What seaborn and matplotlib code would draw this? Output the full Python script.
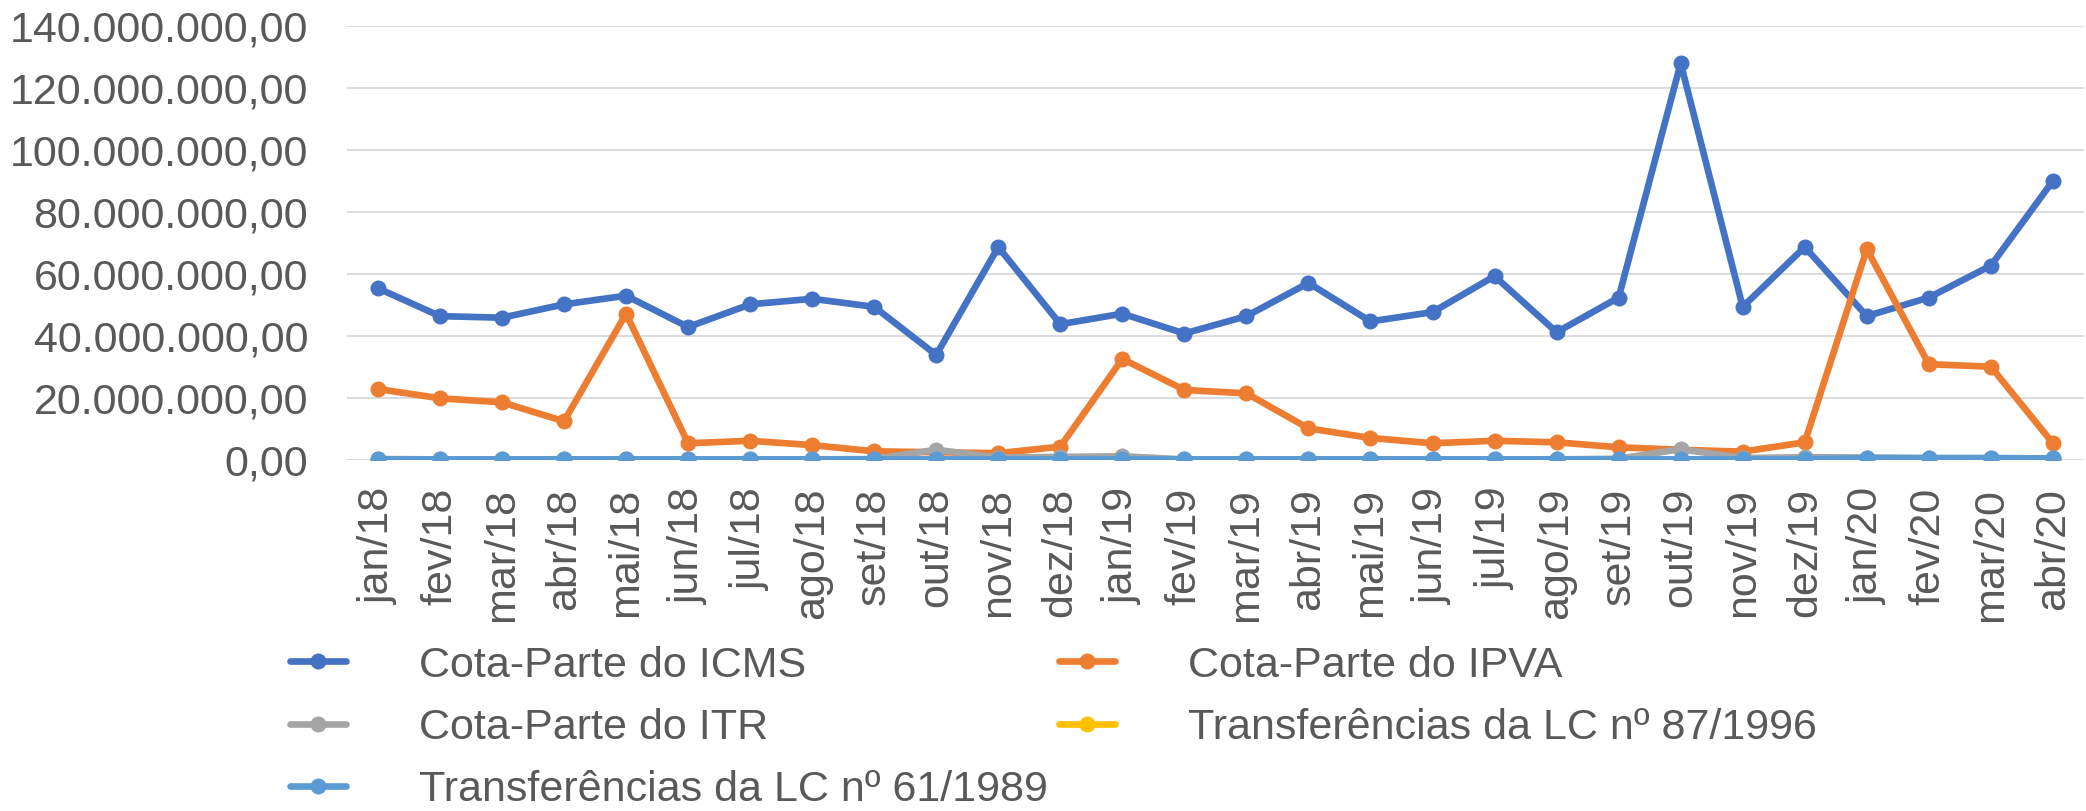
import numpy as np
import pandas as pd
import matplotlib
matplotlib.use('Agg')
import matplotlib.pyplot as plt
import seaborn as sns
from matplotlib.ticker import FuncFormatter, MultipleLocator

# meses
meses = ['jan/18', 'fev/18', 'mar/18', 'abr/18', 'mai/18', 'jun/18', 'jul/18',
         'ago/18', 'set/18', 'out/18', 'nov/18', 'dez/18', 'jan/19', 'fev/19',
         'mar/19', 'abr/19', 'mai/19', 'jun/19', 'jul/19', 'ago/19', 'set/19',
         'out/19', 'nov/19', 'dez/19', 'jan/20', 'fev/20', 'mar/20', 'abr/20']

# valores em milhoes de reais
icms = [55.4, 46.4, 45.9, 50.2, 53.0, 42.9, 50.2, 52.0, 49.4, 33.9, 68.7, 43.8,
        47.2, 40.8, 46.4, 57.1, 44.7, 47.7, 59.3, 41.2, 52.4, 128.0, 49.4, 68.7,
        46.4, 52.4, 62.7, 90.0]
ipva = [22.9, 19.9, 18.6, 12.5, 47.2, 5.4, 6.2, 4.8, 2.8, 2.5, 2.2, 4.3,
        32.6, 22.6, 21.5, 10.2, 7.1, 5.4, 6.2, 5.7, 4.1, 3.3, 2.7, 5.7,
        68.0, 30.9, 30.1, 5.4]
itr = [0.3, 0.2, 0.2, 0.2, 0.2, 0.2, 0.2, 0.2, 0.3, 3.3, 0.8, 1.0,
       1.2, 0.2, 0.2, 0.2, 0.2, 0.2, 0.2, 0.2, 0.4, 3.5, 0.6, 0.9,
       0.8, 0.6, 0.6, 0.5]
lc87 = [0.1] * 24 + [0.2, 0.2, 0.2, 0.2]
lc61 = [0.2] * 24 + [0.6, 0.6, 0.6, 0.5]

series = ['Cota-Parte do ICMS', 'Cota-Parte do IPVA', 'Cota-Parte do ITR',
          'Transferências da LC nº 87/1996', 'Transferências da LC nº 61/1989']
valores = [icms, ipva, itr, lc87, lc61]
cores = ['#4472C4', '#ED7D31', '#A5A5A5', '#FFC000', '#5B9BD5']

df = pd.concat([
    pd.DataFrame({'pos': np.arange(len(meses)), 'mes': meses,
                  'valor': np.array(v) * 1e6, 'serie': s})
    for s, v in zip(series, valores)
], ignore_index=True)

sns.set_style('white')
plt.rcParams['font.family'] = ['Liberation Sans', 'DejaVu Sans']

LW = 4.8
MS = 11.5

fig = plt.figure(figsize=(20.86, 8.11), dpi=100)
ax = fig.add_axes([0.1663, 0.4328, 0.8327, 0.5352])

sns.lineplot(data=df, x='pos', y='valor', hue='serie', hue_order=series,
             palette=cores, marker='o', sort=False, ax=ax, legend=False,
             linewidth=LW, markersize=MS, markeredgewidth=0)
for ln in ax.get_lines():
    ln.set_solid_joinstyle('round')

ax.set_xlim(-0.5, len(meses) - 0.5)
ax.set_ylim(0, 140e6)
ax.yaxis.set_major_locator(MultipleLocator(20e6))

def fmt_br(v, pos):
    s = f'{v:,.2f}'
    return s.replace(',', 'X').replace('.', ',').replace('X', '.')

ax.yaxis.set_major_formatter(FuncFormatter(fmt_br))
ax.set_xticks(np.arange(len(meses)))
ax.set_xticklabels(meses, rotation=90)
ax.tick_params(axis='y', length=0, pad=28, labelsize=31, labelcolor='#595959')
ax.tick_params(axis='x', length=0, pad=20, labelsize=31, labelcolor='#595959')
ax.set_xlabel('')
ax.set_ylabel('')
ax.grid(axis='y', color='#D9D9D9', linewidth=1.3)
ax.set_axisbelow(True)
for sp in ax.spines.values():
    sp.set_visible(False)

# legenda (ordem por coluna)
ordem = [0, 2, 4, 1, 3]
handles = [plt.Line2D([], [], color=cores[i], marker='o', markersize=MS,
                      markeredgewidth=0, linewidth=LW) for i in ordem]
labels = [series[i] for i in ordem]
fig.legend(handles, labels, loc='upper left', bbox_to_anchor=(0.139, 0.204),
           ncol=2, frameon=False, fontsize=31, labelcolor='#595959',
           handlelength=1.3, handletextpad=1.7, columnspacing=0.25,
           labelspacing=0.52, borderpad=0, borderaxespad=0)

fig.savefig('out.png', dpi=100)
